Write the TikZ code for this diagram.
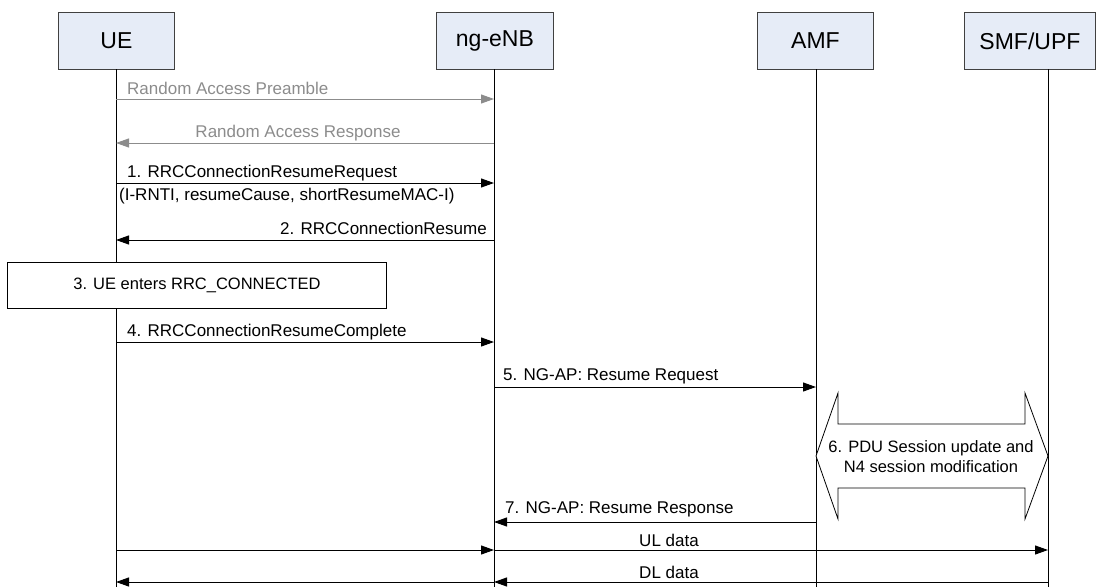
\documentclass[tikz,border=0pt]{standalone}
\usepackage{fontspec}
\setmainfont{Liberation Sans}
\usetikzlibrary{arrows.meta}
\definecolor{boxfill}{HTML}{E6ECF7}
\definecolor{graymsg}{HTML}{8C8C8C}
\definecolor{boxline}{HTML}{404040}
\begin{document}
\begin{tikzpicture}[x=1pt,y=-1pt,
  entity/.style={draw=boxline, fill=boxfill, line width=0.9pt, minimum height=57pt, inner sep=0pt, anchor=north west, font=\fontsize{23}{27}\selectfont},
  life/.style={line width=0.8pt},
  msg/.style={-{Triangle[length=13pt,width=9pt]}, line width=1pt},
  ramsg/.style={msg, draw=graymsg, fill=graymsg},
  lbl/.style={font=\fontsize{17}{20}\selectfont, inner sep=0pt},
  grlbl/.style={lbl, text=graymsg}]
\useasboundingbox (0,0) rectangle (1096,587);
% entities
\node[entity, minimum width=116pt] (ue) at (58,12) {UE};
\node[entity, minimum width=117pt] (enb) at (436,12) {ng-eNB};
\node[entity, minimum width=116pt] (amf) at (757,12) {AMF};
\node[entity, minimum width=131pt] (smf) at (964,12) {SMF/UPF};
% lifelines
\coordinate (ueT) at (116,69);  \coordinate (ueB) at (116,587);
\coordinate (enbT) at (494,69); \coordinate (enbB) at (494,587);
\coordinate (amfT) at (816,69); \coordinate (amfB) at (816,587);
\coordinate (smfT) at (1048,69); \coordinate (smfB) at (1048,587);
\draw[life] (ueT) -- (ueB);
\draw[life] (enbT) -- (enbB);
\draw[life] (amfT) -- (amfB);
\draw[life] (smfT) -- (smfB);
% Random Access Preamble
\coordinate (p1) at (116,99); \coordinate (p2) at (494,99);
\draw[ramsg] (p1) -- (p2);
\node[grlbl, anchor=base west] (pl) at (127,94) {Random Access Preamble};
% Random Access Response
\coordinate (r1) at (494,143); \coordinate (r2) at (116,143);
\draw[ramsg] (r1) -- (r2);
\node[grlbl, anchor=base] (rl) at (298,137) {Random Access Response};
% 1
\coordinate (m1a) at (116,183); \coordinate (m1b) at (494,183);
\draw[msg] (m1a) -- (m1b);
\node[lbl, anchor=base west] (m1l) at (127,177) {1. RRCConnectionResumeRequest};
\node[lbl, anchor=base west] (m1l2) at (119,200) {(I-RNTI, resumeCause, shortResumeMAC-I)};
% 2
\coordinate (m2a) at (494,240); \coordinate (m2b) at (116,240);
\draw[msg] (m2a) -- (m2b);
\node[lbl, anchor=base east] (m2l) at (487,234) {2. RRCConnectionResume};
% 3
\node[draw, fill=white, line width=0.9pt, minimum width=379pt, minimum height=46pt, inner sep=0pt, anchor=north west, font=\fontsize{16.5}{20}\selectfont] (s3) at (7,262) {3. UE enters RRC\_CONNECTED};
% 4
\coordinate (m4a) at (116,342); \coordinate (m4b) at (494,342);
\draw[msg] (m4a) -- (m4b);
\node[lbl, anchor=base west] (m4l) at (127,336) {4. RRCConnectionResumeComplete};
% 5
\coordinate (m5a) at (494,387); \coordinate (m5b) at (816,387);
\draw[msg] (m5a) -- (m5b);
\node[lbl, anchor=base west] (m5l) at (503,380) {5. NG-AP: Resume Request};
% 6 double arrow block
\draw[line width=0.8pt, fill=white] (838,393) -- (838,424) -- (1025,424) -- (1025,393) -- (1048,456) -- (1025,519) -- (1025,488) -- (838,488) -- (838,519) -- (816,456) -- cycle;
\node[align=center, inner sep=0pt, font=\fontsize{16.5}{20}\selectfont] (s6) at (931,457) {6. PDU Session update and\\N4 session modification};
% 7
\coordinate (m7a) at (816,522); \coordinate (m7b) at (494,522);
\draw[msg] (m7a) -- (m7b);
\node[lbl, anchor=base west] (m7l) at (505,513) {7. NG-AP: Resume Response};
% UL data
\coordinate (ul1) at (116,550); \coordinate (ul2) at (494,550); \coordinate (ul3) at (1048,550);
\draw[msg] (ul1) -- (ul2);
\draw[msg] (ul2) -- (ul3);
\node[lbl, anchor=base] (ull) at (669,546) {UL data};
% DL data
\coordinate (dl1) at (1048,582); \coordinate (dl2) at (494,582); \coordinate (dl3) at (116,582);
\draw[msg] (dl1) -- (dl2);
\draw[msg] (dl2) -- (dl3);
\node[lbl, anchor=base] (dll) at (669,578) {DL data};
\end{tikzpicture}
\end{document}
